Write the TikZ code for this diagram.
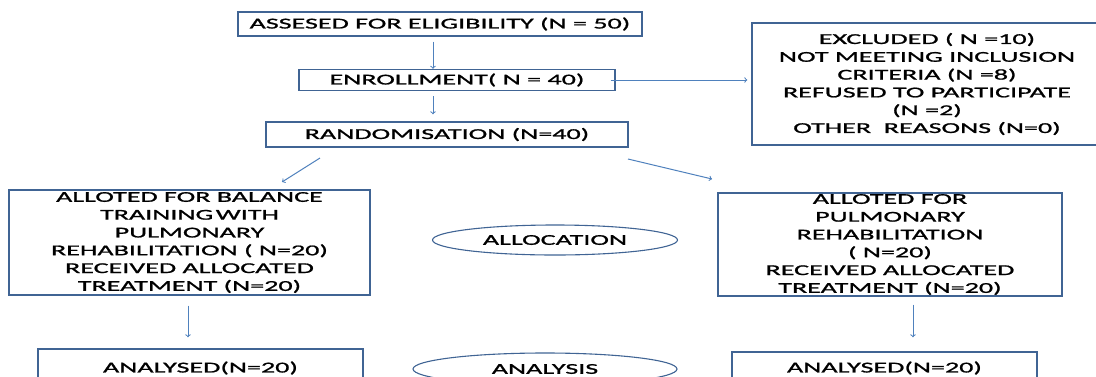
\documentclass[tikz,border=0pt]{standalone}
\usepackage{fontspec}
\setmainfont{Carlito}[FakeStretch=1.87,FakeBold=1.2]
\usetikzlibrary{shapes.geometric}
\definecolor{boxc}{RGB}{64,100,148}
\definecolor{arrc}{RGB}{79,129,189}
\begin{document}
\begin{tikzpicture}[x=1pt,y=-1pt,
  box/.style={draw=boxc,line width=1.4pt,inner sep=0pt,align=center,
    font=\fontsize{15}{17.8}\selectfont},
  ell/.style={ellipse,draw=boxc,line width=1.1pt,inner sep=0pt,
    font=\fontsize{15}{17.8}\selectfont},
  arr/.style={draw=arrc,line width=1pt,->}]
\useasboundingbox (0,0) rectangle (1096,376);
\clip (0,0) rectangle (1096,376);
\fill[white] (0,0) rectangle (1096,376);

\node[box,minimum width=404,minimum height=24] (elig) at (440,24) {ASSESED FOR ELIGIBILITY (N = 50)};
\node[box,minimum width=316,minimum height=21] (enroll) at (457,80) {ENROLLMENT( N = 40)};
\node[box,minimum width=362,minimum height=25] (rand) at (447,134.5) {RANDOMISATION (N=40)};
\node[box,minimum width=350,minimum height=122] (excl) at (927,84) {EXCLUDED ( N =10)\\NOT MEETING INCLUSION\\CRITERIA (N =8)\\REFUSED TO PARTICIPATE\\(N =2)\\OTHER\ \ REASONS (N=0)};
\node[box,minimum width=361,minimum height=105] (left) at (189.5,242.5) {ALLOTED FOR BALANCE\\TRAINING\,WITH\\PULMONARY\\REHABILITATION ( N=20)\\RECEIVED ALLOCATED\\TREATMENT (N=20)};
\node[box,minimum width=344,minimum height=103] (right) at (890,244.5) {ALLOTED FOR\\PULMONARY\\REHABILITATION\\( N=20)\\RECEIVED ALLOCATED\\TREATMENT (N=20)};
\node[box,minimum width=325,minimum height=38] (anl) at (200.5,368) {ANALYSED(N=20)};
\node[box,minimum width=305,minimum height=32] (anr) at (884.5,368) {ANALYSED(N=20)};
\node[ell,minimum width=245,minimum height=30] (alloc) at (555,240) {ALLOCATION};
\node[ell,minimum width=264,minimum height=32] (analysis) at (545,369) {ANALYSIS};

\coordinate (cx) at (433,0);
\coordinate (rl1) at (320,158);
\coordinate (rl2) at (282,182);
\coordinate (rr1) at (628,159);
\coordinate (rr2) at (712,179);
\coordinate (lx) at (188,0);
\coordinate (rx) at (913,0);

\draw[arr,shorten <=5pt] (elig.south -| cx) -- (enroll.north -| cx);
\draw[arr,shorten <=5pt,shorten >=7pt] (enroll.south -| cx) -- (rand.north -| cx);
\draw[arr,shorten <=-5pt,shorten >=4pt] (enroll.east) -- (excl.west |- enroll.east);
\draw[arr] (rl1) -- (rl2);
\draw[arr] (rr1) -- (rr2);
\draw[arr,shorten <=10pt,shorten >=11pt] (left.south -| lx) -- (anl.north -| lx);
\draw[arr,shorten <=8pt,shorten >=14pt] (right.south -| rx) -- (anr.north -| rx);
\end{tikzpicture}
\end{document}
